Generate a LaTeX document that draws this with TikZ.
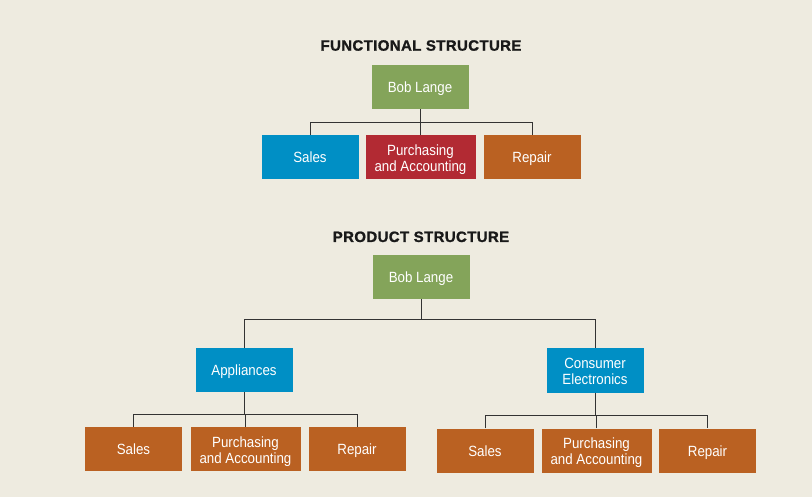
\documentclass[tikz,border=0pt]{standalone}
\usepackage{fontspec}
\setmainfont{Liberation Sans}
\newfontfamily\titlefont[LetterSpace=2.5,FakeBold=1.2]{Liberation Sans}
\definecolor{bg}{HTML}{EEEBE0}
\definecolor{boxgreen}{HTML}{84A45A}
\definecolor{boxblue}{HTML}{008FC5}
\definecolor{boxred}{HTML}{B22A33}
\definecolor{boxorange}{HTML}{BA6122}
\definecolor{linegray}{HTML}{333333}
\newcommand\boxline[2]{\raisebox{#1}[0pt][0pt]{\makebox[0pt]{\scalebox{0.9}[1]{#2}}}}
\newcommand\oneline[1]{\boxline{-5.6pt}{#1}}
\newcommand\twolines[2]{\boxline{1.6pt}{#1}\boxline{-14.2pt}{#2}}
\begin{document}
\begin{tikzpicture}[x=1pt,y=-1pt,
  box/.style={minimum height=44pt, inner sep=0pt, text=white,
    font=\fontsize{14.8}{16}\selectfont},
  w96/.style={minimum width=97pt},
  w110/.style={minimum width=110pt},
  greenbox/.style={box, fill=boxgreen},
  bluebox/.style={box, fill=boxblue},
  redbox/.style={box, fill=boxred},
  orangebox/.style={box, fill=boxorange},
  ttl/.style={anchor=base, inner sep=0pt, font=\titlefont\bfseries\fontsize{15}{16}\selectfont, text=black!90},
  conn/.style={draw=linegray, line width=1pt}]
\fill[bg] (0,0) rectangle (812,497);
\useasboundingbox (0,0) rectangle (812,497);

% Functional structure
\node[ttl] (t1) at (421,50.7) {FUNCTIONAL STRUCTURE};
\node[greenbox, w96] (f0) at (420,87) {\oneline{Bob Lange}};
\node[bluebox, w96] (f1) at (310,157) {\oneline{Sales}};
\node[redbox, w110] (f2) at (420.5,157) {\twolines{Purchasing}{and Accounting}};
\node[orangebox, w96] (f3) at (532,157) {\oneline{Repair}};
\coordinate (fb) at (420,122.5);
\draw[conn] (f0.south) -- (f0.south |- fb);
\draw[conn] (f1.north) -- (f1.north |- fb) -- (f3.north |- fb) -- (f3.north);
\draw[conn] (f2.north) -- (f2.north |- fb);

% Product structure
\node[ttl] (t2) at (421,242) {PRODUCT STRUCTURE};
\node[greenbox, w96] (p0) at (421,277) {\oneline{Bob Lange}};
\node[bluebox, w96] (pa) at (244,370) {\oneline{Appliances}};
\node[bluebox, w96] (pc) at (595,370.5) {\twolines{Consumer}{Electronics}};
\coordinate (pb) at (421,320);
\draw[conn] (p0.south) -- (p0.south |- pb);
\draw[conn] (pa.north) -- (pa.north |- pb) -- (pc.north |- pb) -- (pc.north);

% Appliances children
\node[orangebox, w96] (a1) at (133.5,449) {\oneline{Sales}};
\node[orangebox, w110] (a2) at (245.5,449) {\twolines{Purchasing}{and Accounting}};
\node[orangebox, w96] (a3) at (357,449) {\oneline{Repair}};
\coordinate (ab) at (244,414.5);
\draw[conn] (pa.south) -- (pa.south |- ab);
\draw[conn] (a1.north) -- (a1.north |- ab) -- (a3.north |- ab) -- (a3.north);
\draw[conn] (a2.north) -- (a2.north |- ab);

% Consumer Electronics children
\node[orangebox, w96] (c1) at (485,450.5) {\oneline{Sales}};
\node[orangebox, w110] (c2) at (596.5,450.5) {\twolines{Purchasing}{and Accounting}};
\node[orangebox, w96] (c3) at (707.5,450.5) {\oneline{Repair}};
\coordinate (cb) at (595,415);
\draw[conn] (pc.south) -- (pc.south |- cb);
\draw[conn] (c1.north) -- (c1.north |- cb) -- (c3.north |- cb) -- (c3.north);
\draw[conn] (c2.north) -- (c2.north |- cb);
\end{tikzpicture}
\end{document}
